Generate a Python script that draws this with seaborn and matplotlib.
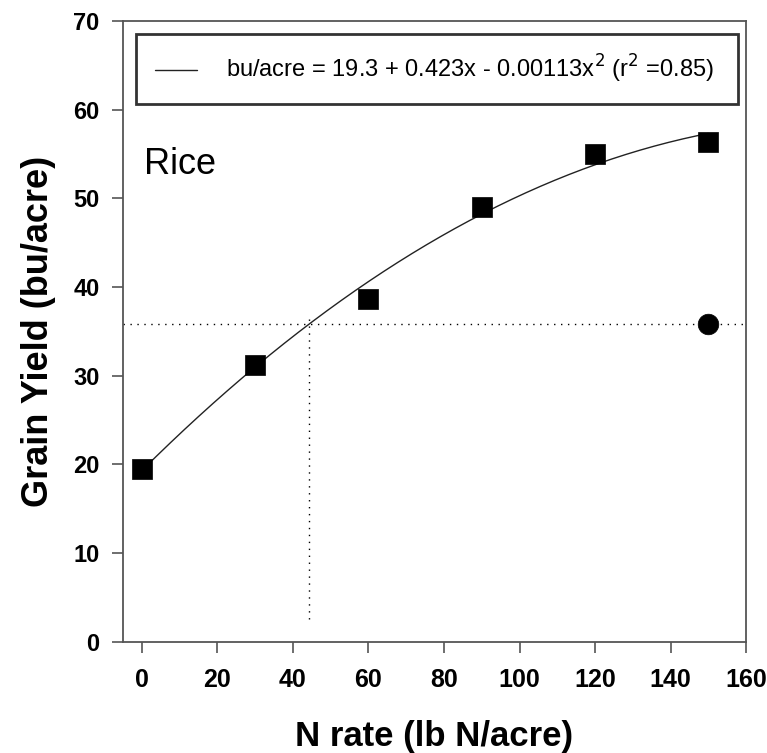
import numpy as np
import pandas as pd
import matplotlib
matplotlib.use("Agg")
import matplotlib.pyplot as plt
import seaborn as sns

# Data
n_rate = [0, 30, 60, 90, 120, 150]
yield_bu = [19.5, 31.2, 38.7, 49.0, 55.0, 56.4]
check_x = [150]
check_y = [35.8]
coef = [19.3, 0.423, -0.00113]
crit_x = 44.2
crit_y = 35.8
xticks = [0, 20, 40, 60, 80, 100, 120, 140, 160]
yticks = [0, 10, 20, 30, 40, 50, 60, 70]

sns.set_theme(style="white")
plt.rcParams['font.family'] = ['Liberation Sans', 'DejaVu Sans']
plt.rcParams['text.color'] = 'black'
plt.rcParams['axes.labelcolor'] = 'black'
plt.rcParams['xtick.color'] = 'black'
plt.rcParams['ytick.color'] = 'black'

fig = plt.figure(figsize=(7.67, 7.53), dpi=100)
ax = fig.add_axes([0.1604, 0.148, 0.8123, 0.824])

xs = np.linspace(0, 150, 200)
fit = coef[0] + coef[1] * xs + coef[2] * xs ** 2
ax.plot(xs, fit, color='#222222', lw=1.0,
        label=r'bu/acre = 19.3 + 0.423x - 0.00113x$^2$ (r$^2$ =0.85)')

ax.plot([-5, 160], [crit_y, crit_y], ls=(0, (1, 4)), color='black', lw=1.0)
ax.plot([crit_x, crit_x], [2.5, 37], ls=(0, (1, 4)), color='black', lw=1.0)

df = pd.DataFrame({'x': n_rate, 'y': yield_bu})
sns.scatterplot(data=df, x='x', y='y', marker='s', s=190, color='black',
                edgecolor='black', linewidth=0.5, ax=ax, zorder=5)
dc = pd.DataFrame({'x': check_x, 'y': check_y})
sns.scatterplot(data=dc, x='x', y='y', marker='o', s=220, color='black',
                edgecolor='black', linewidth=0.5, ax=ax, zorder=5)

ax.set_xlim(-5, 160)
ax.set_ylim(0, 70)
ax.set_xticks(xticks)
ax.set_yticks(yticks)
ax.tick_params(axis='both', direction='out', length=8, width=1.2,
               labelsize=17, bottom=True, left=True, pad=9)
ax.tick_params(axis='both', color='#555555')
ax.tick_params(axis='x', labelsize=18, pad=11)
for lab in ax.get_xticklabels() + ax.get_yticklabels():
    lab.set_fontweight('bold')
for sp in ax.spines.values():
    sp.set_color('#555555')
    sp.set_linewidth(1.3)

ax.set_xlabel('N rate (lb N/acre)', fontsize=25, fontweight='bold', labelpad=20)
ax.set_ylabel('Grain Yield (bu/acre)', fontsize=26, fontweight='bold', labelpad=12)

ax.text(0.034, 0.769, 'Rice', transform=ax.transAxes, fontsize=26,
        ha='left', va='center', color='black')

leg = ax.legend(loc='upper left', bbox_to_anchor=(0.021, 0.979, 0.966, 0.0),
                mode='expand', frameon=True, fancybox=False, fontsize=17,
                handlelength=1.8, handletextpad=1.2, borderpad=0.8,
                borderaxespad=0)
leg.get_frame().set_edgecolor('black')
leg.get_frame().set_linewidth(2)

fig.savefig('out.png', dpi=100)
